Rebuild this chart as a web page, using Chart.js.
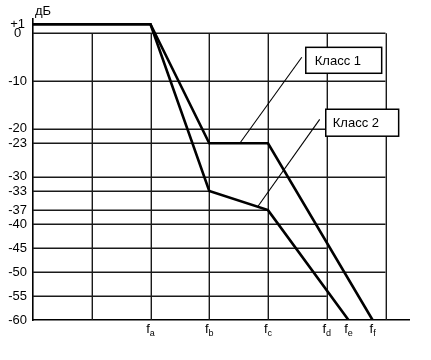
<!DOCTYPE html>
<html>
<head>
<meta charset="utf-8">
<script src="https://cdn.jsdelivr.net/npm/chart.js@4/dist/chart.umd.min.js"></script>
<style>
html,body{margin:0;padding:0;background:#fff;}
#wrap{width:431px;height:360px;}
</style>
</head>
<body>
<div id="wrap"><canvas id="c" width="431" height="360"></canvas></div>
<script>
// ---- data ----
const yTicks = [1, 0, -10, -20, -23, -30, -33, -37, -40, -45, -50, -55, -60];
const freqNames = ['a', 'b', 'c', 'd', 'e', 'f'];
const freqPos = [2, 3, 4, 5, 5.37, 5.78];
const class1X = [0, 2, 3, 4, 5.78];
const class1Y = [1, 1, -23, -23, -60];
const class2X = [0, 2, 3, 4, 5.37];
const class2Y = [1, 1, -33, -37, -60];
const gridY = [0, -10, -20, -23, -30, -33, -37, -40, -45, -50, -55];
const gridEndX = [6, 6, 6, 3, 6, 3, 4, 6, 5, 6, 5];
const gridX = [1, 2, 3, 4, 5, 6];
const seriesNames = ['Класс 1', 'Класс 2'];
const unitLabel = 'дБ';

const FONT = "'Liberation Sans', Arial, sans-serif";
Chart.defaults.font.family = FONT;
Chart.defaults.font.size = 13;
Chart.defaults.color = '#000';

// The original drawing stretches the region above 0 dB; mimic with a piecewise linear scale.
const UP = 1.9;
class PiecewiseScale extends Chart.LinearScale {
  static id = 'piecewise';
  getPixelForValue(v) { return super.getPixelForValue(v > 0 ? v * UP : v); }
  getValueForPixel(p) { const v = super.getValueForPixel(p); return v > 0 ? v / UP : v; }
}
Chart.register(PiecewiseScale);

const pts = (xs, ys) => xs.map((v, i) => ({x: v, y: ys[i]}));

const refPlugin = {
  id: 'refDraw',
  beforeDatasetsDraw(chart) {
    const {ctx, scales: {x, y}} = chart;
    ctx.save();
    ctx.strokeStyle = '#1a1a1a';
    ctx.lineWidth = 1.4;
    gridY.forEach((v, i) => {
      const py = Math.round(y.getPixelForValue(v)) + 0.3;
      ctx.beginPath();
      ctx.moveTo(x.getPixelForValue(0), py);
      ctx.lineTo(x.getPixelForValue(gridEndX[i]), py);
      ctx.stroke();
    });
    gridX.forEach(v => {
      const px = Math.round(x.getPixelForValue(v)) + 0.3;
      ctx.beginPath();
      ctx.moveTo(px, y.getPixelForValue(0));
      ctx.lineTo(px, y.getPixelForValue(-60));
      ctx.stroke();
    });
    ctx.restore();
  },
  afterDatasetsDraw(chart, args, opts) {
    const {ctx, scales: {x, y}} = chart;
    ctx.save();
    ctx.strokeStyle = '#000';
    ctx.lineWidth = 1.1;
    opts.callouts.forEach(c => {
      ctx.beginPath();
      ctx.moveTo(x.getPixelForValue(c.from[0]), y.getPixelForValue(c.from[1]));
      ctx.lineTo(x.getPixelForValue(c.to[0]), y.getPixelForValue(c.to[1]));
      ctx.stroke();
    });
    opts.callouts.forEach((c, i) => {
      const l = x.getPixelForValue(c.box[0]), r = x.getPixelForValue(c.box[1]);
      const t = y.getPixelForValue(c.box[2]), b = y.getPixelForValue(c.box[3]);
      ctx.fillStyle = '#fff';
      ctx.fillRect(l, t, r - l, b - t);
      ctx.lineWidth = 1.5;
      ctx.strokeStyle = '#000';
      ctx.strokeRect(l, t, r - l, b - t);
      ctx.fillStyle = '#000';
      ctx.font = '13px ' + FONT;
      ctx.textAlign = 'left';
      ctx.textBaseline = 'middle';
      ctx.fillText(seriesNames[i], l + c.pad, (t + b) / 2 + 1);
    });
    const baseY = chart.chartArea.bottom + 13;
    freqNames.forEach((n, i) => {
      const px = x.getPixelForValue(freqPos[i]);
      ctx.font = '13px ' + FONT;
      const wf = ctx.measureText('f').width;
      ctx.font = '9px ' + FONT;
      const ws = ctx.measureText(n).width;
      const start = px - (wf + ws) / 2;
      ctx.fillStyle = '#000';
      ctx.textAlign = 'left';
      ctx.textBaseline = 'alphabetic';
      ctx.font = '13px ' + FONT;
      ctx.fillText('f', start, baseY);
      ctx.font = '9px ' + FONT;
      ctx.fillText(n, start + wf, baseY + 3);
    });
    ctx.font = '13px ' + FONT;
    ctx.textAlign = 'left';
    ctx.textBaseline = 'alphabetic';
    ctx.fillText(unitLabel, chart.chartArea.left + 2, 15);
    ctx.restore();
  }
};

new Chart(document.getElementById('c'), {
  type: 'line',
  data: {
    datasets: [
      {label: seriesNames[0], data: pts(class1X, class1Y), borderColor: '#000', borderWidth: 2.6, pointRadius: 0, tension: 0, fill: false},
      {label: seriesNames[1], data: pts(class2X, class2Y), borderColor: '#000', borderWidth: 2.6, pointRadius: 0, tension: 0, fill: false}
    ]
  },
  options: {
    responsive: false,
    animation: false,
    devicePixelRatio: 1,
    layout: {padding: {top: 19, right: 22, bottom: 0, left: 0}},
    plugins: {
      legend: {display: false},
      tooltip: {enabled: false},
      refDraw: {
        callouts: [
          {from: [4.575, -5.0], to: [3.52, -23], box: [4.643, 5.935, -2.93, -8.36], pad: 9},
          {from: [4.88, -18.0], to: [3.83, -36.2], box: [4.983, 6.224, -15.89, -21.53], pad: 7}
        ]
      }
    },
    scales: {
      x: {
        type: 'linear', min: 0, max: 6.4,
        grid: {display: false, drawTicks: false},
        border: {display: true, color: '#000', width: 1.6},
        ticks: {display: false},
        afterFit(s) { s.height = 40; }
      },
      y: {
        type: 'piecewise', min: -60, max: 3,
        grid: {display: false, drawTicks: false},
        border: {display: true, color: '#000', width: 1.6},
        afterBuildTicks(s) { s.ticks = yTicks.map(v => ({value: v})); },
        ticks: {
          autoSkip: false,
          crossAlign: 'center',
          padding: 6,
          callback: v => (v > 0 ? '+' + v : String(v))
        },
        afterFit(s) { s.width = 33; }
      }
    }
  },
  plugins: [refPlugin]
});
</script>
</body>
</html>
